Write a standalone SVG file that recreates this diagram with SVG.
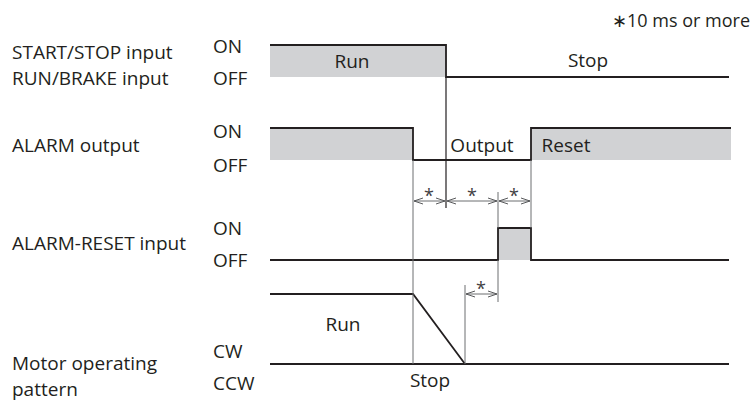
<svg xmlns="http://www.w3.org/2000/svg" width="754" height="401" viewBox="0 0 754 401">
<style>
text{font-family:"Open Sans","Noto Sans","Liberation Sans",sans-serif;font-size:19px;fill:#231f20}
.sig{fill:none;stroke:#231f20;stroke-width:1.8;stroke-linejoin:miter}
.fill{fill:#d1d2d4;stroke:none}
.thin{fill:none;stroke:#6d6e71;stroke-width:1}
.dark{fill:none;stroke:#231f20;stroke-width:1.2}
.ast{font-size:18px;fill:#414042;text-anchor:middle}
</style>
<defs>
<marker id="ah" markerWidth="10" markerHeight="8" refX="9" refY="4" orient="auto-start-reverse" markerUnits="userSpaceOnUse">
<path d="M0,1 L9,4 L0,7" fill="none" stroke="#58595b" stroke-width="1"/>
</marker>
</defs>
<rect width="754" height="401" fill="#fff"/>
<text x="750" y="27" text-anchor="end" style="font-size:18px">∗10 ms or more</text>

<g id="start-stop">
<text x="12" y="59">START/STOP input</text>
<text x="12" y="85">RUN/BRAKE input</text>
<text x="213" y="53">ON</text>
<text x="213" y="85">OFF</text>
<rect class="fill" x="270" y="45" width="176" height="32"/>
<path class="sig" d="M270,45 H446 V77 H729"/>
<text x="352" y="68" text-anchor="middle">Run</text>
<text x="588" y="67" text-anchor="middle">Stop</text>
</g>

<g id="alarm-output">
<text x="12" y="152">ALARM output</text>
<text x="213" y="138">ON</text>
<text x="213" y="172">OFF</text>
<rect class="fill" x="270" y="128" width="143" height="32"/>
<rect class="fill" x="531" y="128" width="200" height="32"/>
<path class="sig" d="M270,128 H413 V160 H531 V128 H731"/>
<text x="482" y="152" text-anchor="middle">Output</text>
<text x="566" y="152" text-anchor="middle">Reset</text>
</g>

<g id="alarm-reset">
<text x="12" y="250">ALARM-RESET input</text>
<text x="213" y="235">ON</text>
<text x="213" y="267">OFF</text>
<rect class="fill" x="498" y="228" width="33" height="32"/>
<path class="sig" d="M270,260 H498 V228 H531 V260 H729"/>
</g>

<g id="motor">
<text x="12" y="370">Motor operating</text>
<text x="12" y="396">pattern</text>
<text x="213" y="358">CW</text>
<text x="213" y="390">CCW</text>
<path class="sig" d="M270,294 H413 L465,364"/>
<path class="sig" d="M270,364 H729"/>
<text x="343" y="331" text-anchor="middle">Run</text>
<text x="430" y="387" text-anchor="middle">Stop</text>
</g>

<g id="connectors">
<line class="dark" x1="446" y1="77" x2="446" y2="208"/>
<line class="thin" x1="413" y1="160" x2="413" y2="364"/>
<line class="thin" x1="531" y1="160" x2="531" y2="228"/>
<line class="thin" x1="498" y1="192" x2="498" y2="228"/>
<line class="thin" x1="498" y1="260" x2="498" y2="302"/>
<line class="thin" x1="465" y1="285" x2="465" y2="364"/>
<line class="thin" x1="414" y1="201" x2="445" y2="201" marker-start="url(#ah)" marker-end="url(#ah)"/>
<line class="thin" x1="447" y1="201" x2="497" y2="201" marker-start="url(#ah)" marker-end="url(#ah)"/>
<line class="thin" x1="499" y1="201" x2="530" y2="201" marker-start="url(#ah)" marker-end="url(#ah)"/>
<line class="thin" x1="466" y1="294" x2="497" y2="294" marker-start="url(#ah)" marker-end="url(#ah)"/>
<text class="ast" x="429" y="202">*</text>
<text class="ast" x="472" y="202">*</text>
<text class="ast" x="514" y="202">*</text>
<text class="ast" x="481" y="295">*</text>
</g>
</svg>
